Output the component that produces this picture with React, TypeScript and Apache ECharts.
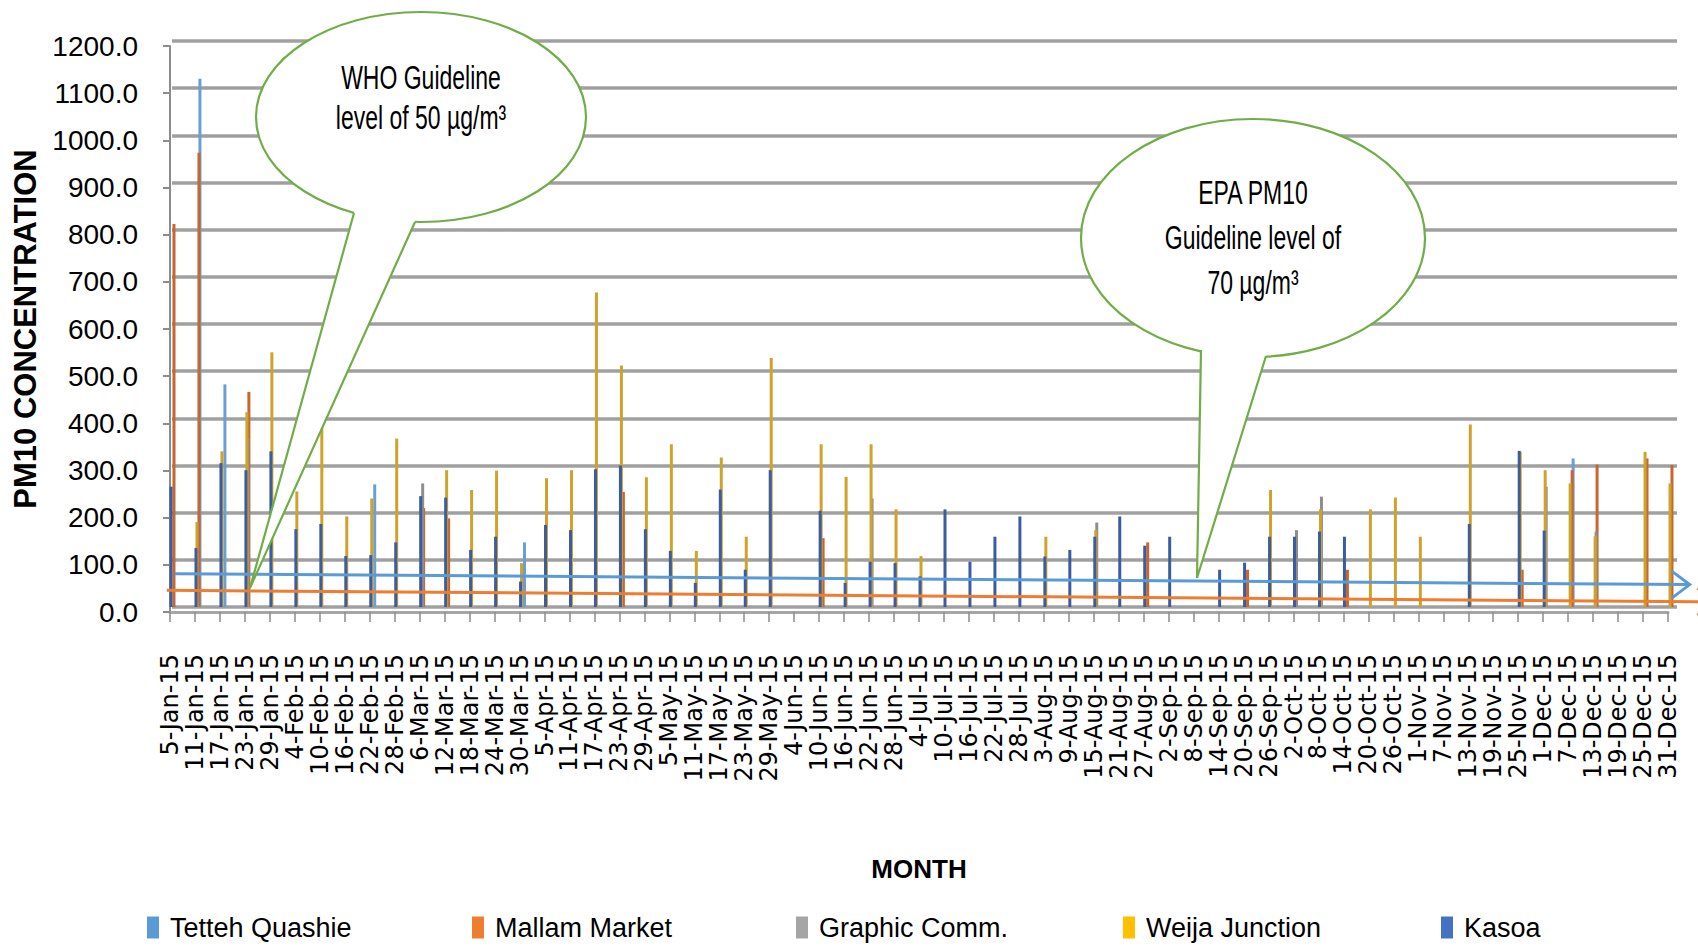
import React, { useEffect, useRef } from "react";
import * as echarts from "echarts";

const N = null;

const categories = [
  "5-Jan-15", "11-Jan-15", "17-Jan-15", "23-Jan-15", "29-Jan-15",
  "4-Feb-15", "10-Feb-15", "16-Feb-15", "22-Feb-15", "28-Feb-15",
  "6-Mar-15", "12-Mar-15", "18-Mar-15", "24-Mar-15", "30-Mar-15",
  "5-Apr-15", "11-Apr-15", "17-Apr-15", "23-Apr-15", "29-Apr-15",
  "5-May-15", "11-May-15", "17-May-15", "23-May-15", "29-May-15",
  "4-Jun-15", "10-Jun-15", "16-Jun-15", "22-Jun-15", "28-Jun-15",
  "4-Jul-15", "10-Jul-15", "16-Jul-15", "22-Jul-15", "28-Jul-15",
  "3-Aug-15", "9-Aug-15", "15-Aug-15", "21-Aug-15", "27-Aug-15",
  "2-Sep-15", "8-Sep-15", "14-Sep-15", "20-Sep-15", "26-Sep-15",
  "2-Oct-15", "8-Oct-15", "14-Oct-15", "20-Oct-15", "26-Oct-15",
  "1-Nov-15", "7-Nov-15", "13-Nov-15", "19-Nov-15", "25-Nov-15",
  "1-Dec-15", "7-Dec-15", "13-Dec-15", "19-Dec-15", "25-Dec-15",
  "31-Dec-15",
];

const tettehQuashie = [
  N, 1120, 472, N, N,
  N, N, N, 260, N,
  N, N, N, N, 137,
  N, N, N, N, N,
  N, N, N, N, N,
  N, N, N, N, N,
  N, N, N, N, N,
  N, N, N, N, N,
  N, N, N, N, N,
  N, N, N, N, N,
  N, N, N, N, N,
  N, 315, N, N, N,
  N,
];

const mallamMarket = [
  812, 963, N, 456, N,
  N, N, N, N, N,
  210, 188, N, N, N,
  N, N, N, 244, N,
  N, N, N, N, N,
  N, 146, N, N, N,
  N, N, N, N, N,
  N, N, N, N, 137,
  N, N, N, 79, N,
  N, N, 79, N, N,
  N, N, N, N, 79,
  N, 290, 302, N, 315,
  301,
];

const graphicComm = [
  N, N, N, 357, N,
  N, N, N, N, N,
  262, N, N, N, N,
  N, N, N, N, N,
  N, N, N, N, N,
  N, N, N, 230, N,
  N, N, N, N, N,
  N, N, 179, N, N,
  N, N, N, N, N,
  163, 234, N, N, N,
  N, N, N, N, N,
  255, N, 160, N, N,
  N,
];

const weijaJunction = [
  N, 180, 330, 413, 540,
  245, 380, 192, 230, 357,
  N, 290, 248, 289, 93,
  273, 290, 667, 512, 275,
  345, 119, 317, 149, 528,
  N, 345, 276, 345, 207,
  108, N, N, N, N,
  149, N, 163, N, N,
  N, N, N, N, 248,
  N, 207, N, 207, 232,
  149, N, 387, N, 329,
  290, 262, 150, N, 329,
  262,
];

const kasoa = [
  255, 125, 305, 290, 330,
  165, 176, 108, 110, 137,
  235, 232, 121, 149, 54,
  174, 163, 292, 300, 165,
  119, 51, 249, 79, 290,
  N, 204, 51, 96, 93,
  65, 207, 96, 149, 192,
  107, 121, 149, 192, 130,
  149, N, 79, 94, 149,
  149, 160, 149, N, N,
  N, N, 176, N, 331,
  162, N, N, N, N,
  N,
];

const seriesNames = ["Tetteh Quashie", "Mallam Market", "Graphic Comm.", "Weija Junction", "Kasoa"];
const legendColors = ["#5B9BD5", "#ED7D31", "#A5A5A5", "#FFC000", "#4472C4"];
const barColors = ["#6A9FD4", "#C9662E", "#8E8E8E", "#CFA22C", "#3B5C9E"];
const seriesData = [tettehQuashie, mallamMarket, graphicComm, weijaJunction, kasoa];
// front (drawn last) to back order in the 3-D original: Kasoa, Weija, Graphic, Mallam, Tetteh
const depthOrder = [4, 3, 2, 1, 0];

// Hand-drawn guideline arrows (x in category index units, y in PM10 units)
const epaArrowX = [0.2, 60.87];
const epaArrowY = [81.3, 58.1];
const whoArrowX = [-0.13, 61.9];
const whoArrowY = [46, 21.6];

const yTicks = { min: 0, max: 1200, interval: 100 };

const SANS = "'Liberation Sans', Arial, sans-serif";
const GREEN = "#70AD47";

const legendLeft = [147, 472, 796, 1123, 1441];

const bubbles = [
  {
    cx: 421, cy: 117, rx: 165, ry: 105,
    tail: [[354, 213], [250, 588], [415, 222]],
    lines: ["WHO Guideline", "level of 50 µg/m³"],
    lineY: [77, 117],
  },
  {
    cx: 1253, cy: 238, rx: 172, ry: 119,
    tail: [[1201, 350], [1197, 578], [1266, 356]],
    lines: ["EPA PM10", "Guideline level of", "70 µg/m³"],
    lineY: [192, 237, 282],
  },
];

function bubbleElements() {
  const els: any[] = [];
  bubbles.forEach((b, bi) => {
    els.push({
      id: `ell${bi}`,
      type: "ellipse",
      z: 100,
      shape: { cx: b.cx, cy: b.cy, rx: b.rx, ry: b.ry },
      style: { fill: "#fff", stroke: GREEN, lineWidth: 2.2 },
    });
    const [b1, tip, b2] = b.tail;
    els.push({
      id: `tailfill${bi}`,
      type: "polygon",
      z: 101,
      shape: { points: [b1, tip, b2, [b2[0], b2[1] - 8], [b1[0], b1[1] - 8]] },
      style: { fill: "#fff", stroke: "none" },
    });
    els.push({
      id: `tailedge${bi}`,
      type: "polyline",
      z: 102,
      shape: { points: [b1, tip, b2] },
      style: { fill: "none", stroke: GREEN, lineWidth: 2.2 },
    });
    b.lines.forEach((t, i) => {
      els.push({
        id: `txt${bi}_${i}`,
        type: "text",
        z: 103,
        x: b.cx,
        y: b.lineY[i],
        scaleY: 1.45,
        style: {
          text: t,
          fill: "#000",
          fontSize: 23,
          fontFamily: SANS,
          align: "center",
          verticalAlign: "middle",
          textAlign: "center",
          textVerticalAlign: "middle",
        },
      });
    });
  });
  return els;
}

export default function App() {
  const ref = useRef<HTMLDivElement>(null);

  useEffect(() => {
    if (!ref.current) return;
    const chart = echarts.init(ref.current, null, { renderer: "svg" });

    const barSeries = depthOrder.map((si, k) => ({
      name: seriesNames[si],
      type: "bar",
      xAxisIndex: 2,
      yAxisIndex: 2,
      data: seriesData[si],
      barWidth: 3,
      barGap: "-67%",
      z: 7 - k,
      silent: true,
      itemStyle: { color: barColors[si] },
    }));

    const option: any = {
      animation: false,
      backgroundColor: "#fff",
      grid: [
        { left: 170, right: 30, top: 46, bottom: 336 },
        { left: 172, right: 21, top: 41, bottom: 341 },
        { left: 173, right: 27, top: 41, bottom: 341 },
      ],
      xAxis: [
        {
          gridIndex: 0,
          type: "category",
          data: categories,
          boundaryGap: false,
          axisLine: { show: true, lineStyle: { color: "#a6a6a6", width: 3 } },
          axisTick: { show: true, interval: 0, length: 10, lineStyle: { color: "#8c8c8c", width: 1.5 } },
          axisLabel: {
            interval: 0,
            rotate: 90,
            margin: 42,
            color: "#000",
            fontFamily: "'DejaVu Sans', Verdana, sans-serif",
            fontSize: 24,
          },
          splitLine: { show: false },
          name: "MONTH",
          nameLocation: "middle",
          nameGap: 244,
          nameTextStyle: { color: "#000", fontFamily: SANS, fontWeight: "bold", fontSize: 26 },
        },
        { gridIndex: 1, type: "value", min: 0, max: 1, show: false },
        { gridIndex: 2, type: "category", data: categories, boundaryGap: false, show: false },
        { gridIndex: 0, type: "value", min: 0, max: 60, show: false },
      ],
      yAxis: [
        {
          gridIndex: 0,
          type: "value",
          min: yTicks.min,
          max: yTicks.max,
          interval: yTicks.interval,
          axisLine: { show: true, lineStyle: { color: "#8c8c8c", width: 2 } },
          axisTick: { show: true, length: 7, lineStyle: { color: "#8c8c8c", width: 2 } },
          axisLabel: {
            margin: 32,
            color: "#000",
            fontFamily: SANS,
            fontSize: 28,
            padding: [12, 0, 0, 0],
            formatter: (v: number) => v.toFixed(1),
          },
          splitLine: { show: false },
          name: "PM10 CONCENTRATION",
          nameLocation: "middle",
          nameGap: 125,
          nameTextStyle: { color: "#000", fontFamily: SANS, fontWeight: "bold", fontSize: 31 },
        },
        {
          gridIndex: 1,
          type: "value",
          min: yTicks.min,
          max: yTicks.max,
          interval: yTicks.interval,
          axisLine: { show: false },
          axisTick: { show: false },
          axisLabel: { show: false },
          splitLine: { show: true, lineStyle: { color: "#a0a0a0", width: 3.5 } },
        },
        { gridIndex: 2, type: "value", min: yTicks.min, max: yTicks.max, show: false, splitLine: { show: false } },
      ],
      legend: seriesNames.map((name, i) => ({
        data: [{ name, itemStyle: { color: legendColors[i] } }],
        left: legendLeft[i],
        top: 914,
        padding: 0,
        itemWidth: 12,
        itemHeight: 22,
        icon: "rect",
        selectedMode: false,
        textStyle: { color: "#000", fontFamily: SANS, fontSize: 27, padding: [0, 0, 0, 6] },
      })),
      series: barSeries,
      graphic: bubbleElements(),
    };

    chart.setOption(option);

    // Guideline arrows placed through the chart's own scales
    const toPx = (x: number, y: number) =>
      chart.convertToPixel({ xAxisIndex: 3, yAxisIndex: 0 } as any, [x, y]) as number[];
    const arrows = [
      { xs: epaArrowX, ys: epaArrowY, color: "#5B9BD5" },
      { xs: whoArrowX, ys: whoArrowY, color: "#ED7D31" },
    ];
    const arrowEls: any[] = [];
    arrows.forEach((a, ai) => {
      const p0 = toPx(a.xs[0], a.ys[0]);
      const p1 = toPx(a.xs[1], a.ys[1]);
      arrowEls.push({
        id: `arrowline${ai}`,
        type: "polyline",
        z: 50,
        shape: { points: [p0, p1] },
        style: { fill: "none", stroke: a.color, lineWidth: 3 },
      });
      arrowEls.push({
        id: `arrowhead${ai}`,
        type: "polyline",
        z: 50,
        shape: { points: [[p1[0] - 18, p1[1] - 13.5], p1, [p1[0] - 18, p1[1] + 13.5]] },
        style: { fill: "none", stroke: a.color, lineWidth: 3 },
      });
    });
    chart.setOption({ graphic: [...arrowEls, ...bubbleElements()] });

    return () => chart.dispose();
  }, []);

  return (
    <div
      ref={ref}
      style={{ position: "fixed", left: 0, top: 0, width: 1698, height: 948, background: "#fff" }}
    />
  );
}
